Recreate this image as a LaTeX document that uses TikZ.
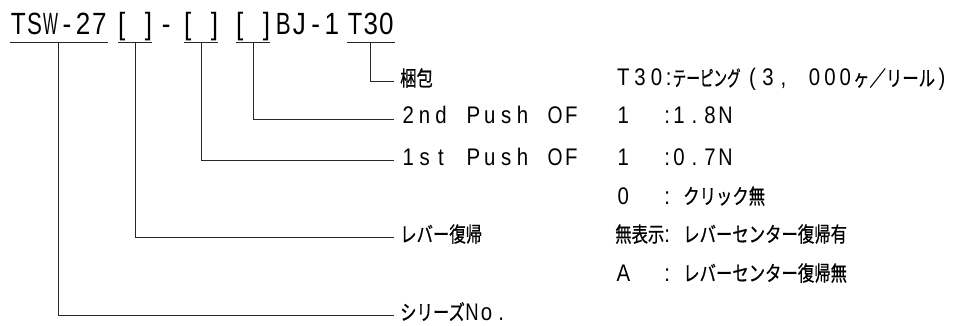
\documentclass[tikz,border=0pt]{standalone}
\usepackage{fontspec}
\usepackage{graphicx}
\newfontfamily\titlefont[FakeStretch=0.85]{Liberation Sans}
\newfontfamily\labfont[FakeStretch=0.85]{Liberation Sans}
\newfontfamily\jpfont[FakeStretch=0.78,FakeBold=0.6]{Noto Sans CJK JP}
\newcommand{\jp}[1]{{\jpfont\fontsize{21}{23}\selectfont #1}}
% one fixed cell for every character, wide glyphs squeezed into it
\makeatletter
\newsavebox\mono@box
\def\mono@end{\mono@end}
\newcommand{\mono}[2][16.2pt]{\def\mono@w{#1}\mono@#2\mono@end}
\def\mono@#1{\ifx#1\mono@end\else
  \sbox\mono@box{#1}%
  \ifdim\wd\mono@box>0.92\dimexpr\mono@w\relax
    \makebox[\mono@w][c]{\resizebox{0.92\dimexpr\mono@w\relax}{\ht\mono@box}{#1}}%
  \else\makebox[\mono@w][c]{#1}\fi
  \expandafter\mono@\fi}
\makeatother
\newcommand{\code}[1]{\makebox[48pt][l]{#1}\makebox[8pt][c]{:}}

\begin{document}
\begin{tikzpicture}[x=1pt,y=-1pt,
    part/.style={anchor=base west,inner sep=0pt,text height=22pt,text depth=7pt,
                 font=\titlefont\fontsize{30.7}{32}\selectfont},
    lab/.style={anchor=west,inner xsep=6pt,inner ysep=0pt,text height=10pt,text depth=0pt,
                font=\labfont\fontsize{24}{26}\selectfont},
    desc/.style={lab,inner xsep=0pt},
    lead/.style={line width=0.9pt,black!85}]

     \useasboundingbox (0,0) rectangle (957,326);

     %model number
     \node[part] (ts)  at (10,35)  {\mono{TSW-27}};
     \node[part] (b1)  at (118,35) {\makebox[34pt][s]{[\hfill]}};
     \node[part] (dsh) at (158,35) {\mono{-}};
     \node[part] (b2)  at (184,35) {\makebox[34pt][s]{[\hfill]}};
     \node[part] (b3)  at (236,35) {\makebox[34pt][s]{[\hfill]}};
     \node[part] (bj)  at (275,35) {\mono{BJ-1}};
     \node[part] (t30) at (347,35) {\mono[15.7pt]{T30}};
     \foreach \n in {ts,b1,b2,b3,t30}
        \draw[lead] (\n.south west)--(\n.south east);

     %items
     \node[lab] (pk) at (394,81)  {\jp{梱包}};
     \node[lab] (p2) at (394,119) {\mono[16.3pt]{2nd~Push~OF}};
     \node[lab] (p1) at (394,160) {\mono[16.3pt]{1st~Push~OF}};
     \node[lab] (lv) at (394,237) {\jp{レバー復帰}};
     \node[lab] (sr) at (394,315) {\jp{シリーズ}\mono[14.5pt]{No.}};
     \draw[lead] (t30.south) |- (pk.west);
     \draw[lead] (b3.south) |- (p2.west);
     \draw[lead] (b2.south) |- (p1.west);
     \draw[lead] (b1.south) |- (lv.west);
     \draw[lead] (ts.south) |- (sr.west);

     %codes
     \node[desc] (r1) at (615,81)  {\mono[16.5pt]{T30}\makebox[8pt][c]{:}\scalebox{0.83}[1]{\jp{テーピング}}\hspace{4pt}\mono[15.5pt]{(3,~000}\jp{ヶ／リール}\mono[14pt]{)}};
     \node[desc] (r2) at (615,119) {\code{\mono{1}}\mono[15.5pt]{1.8N}};
     \node[desc] (r3) at (615,160) {\code{\mono{1}}\mono[15.5pt]{0.7N}};
     \node[desc] (r4) at (615,199) {\code{\mono{0}}\hspace{12pt}\jp{クリック無}};
     \node[desc] (r5) at (615,237) {\code{\jp{無表示}}\hspace{12pt}\jp{レバーセンター復帰有}};
     \node[desc] (r6) at (615,276) {\code{\mono{A}}\hspace{12pt}\jp{レバーセンター復帰無}};

\end{tikzpicture}
\end{document}
